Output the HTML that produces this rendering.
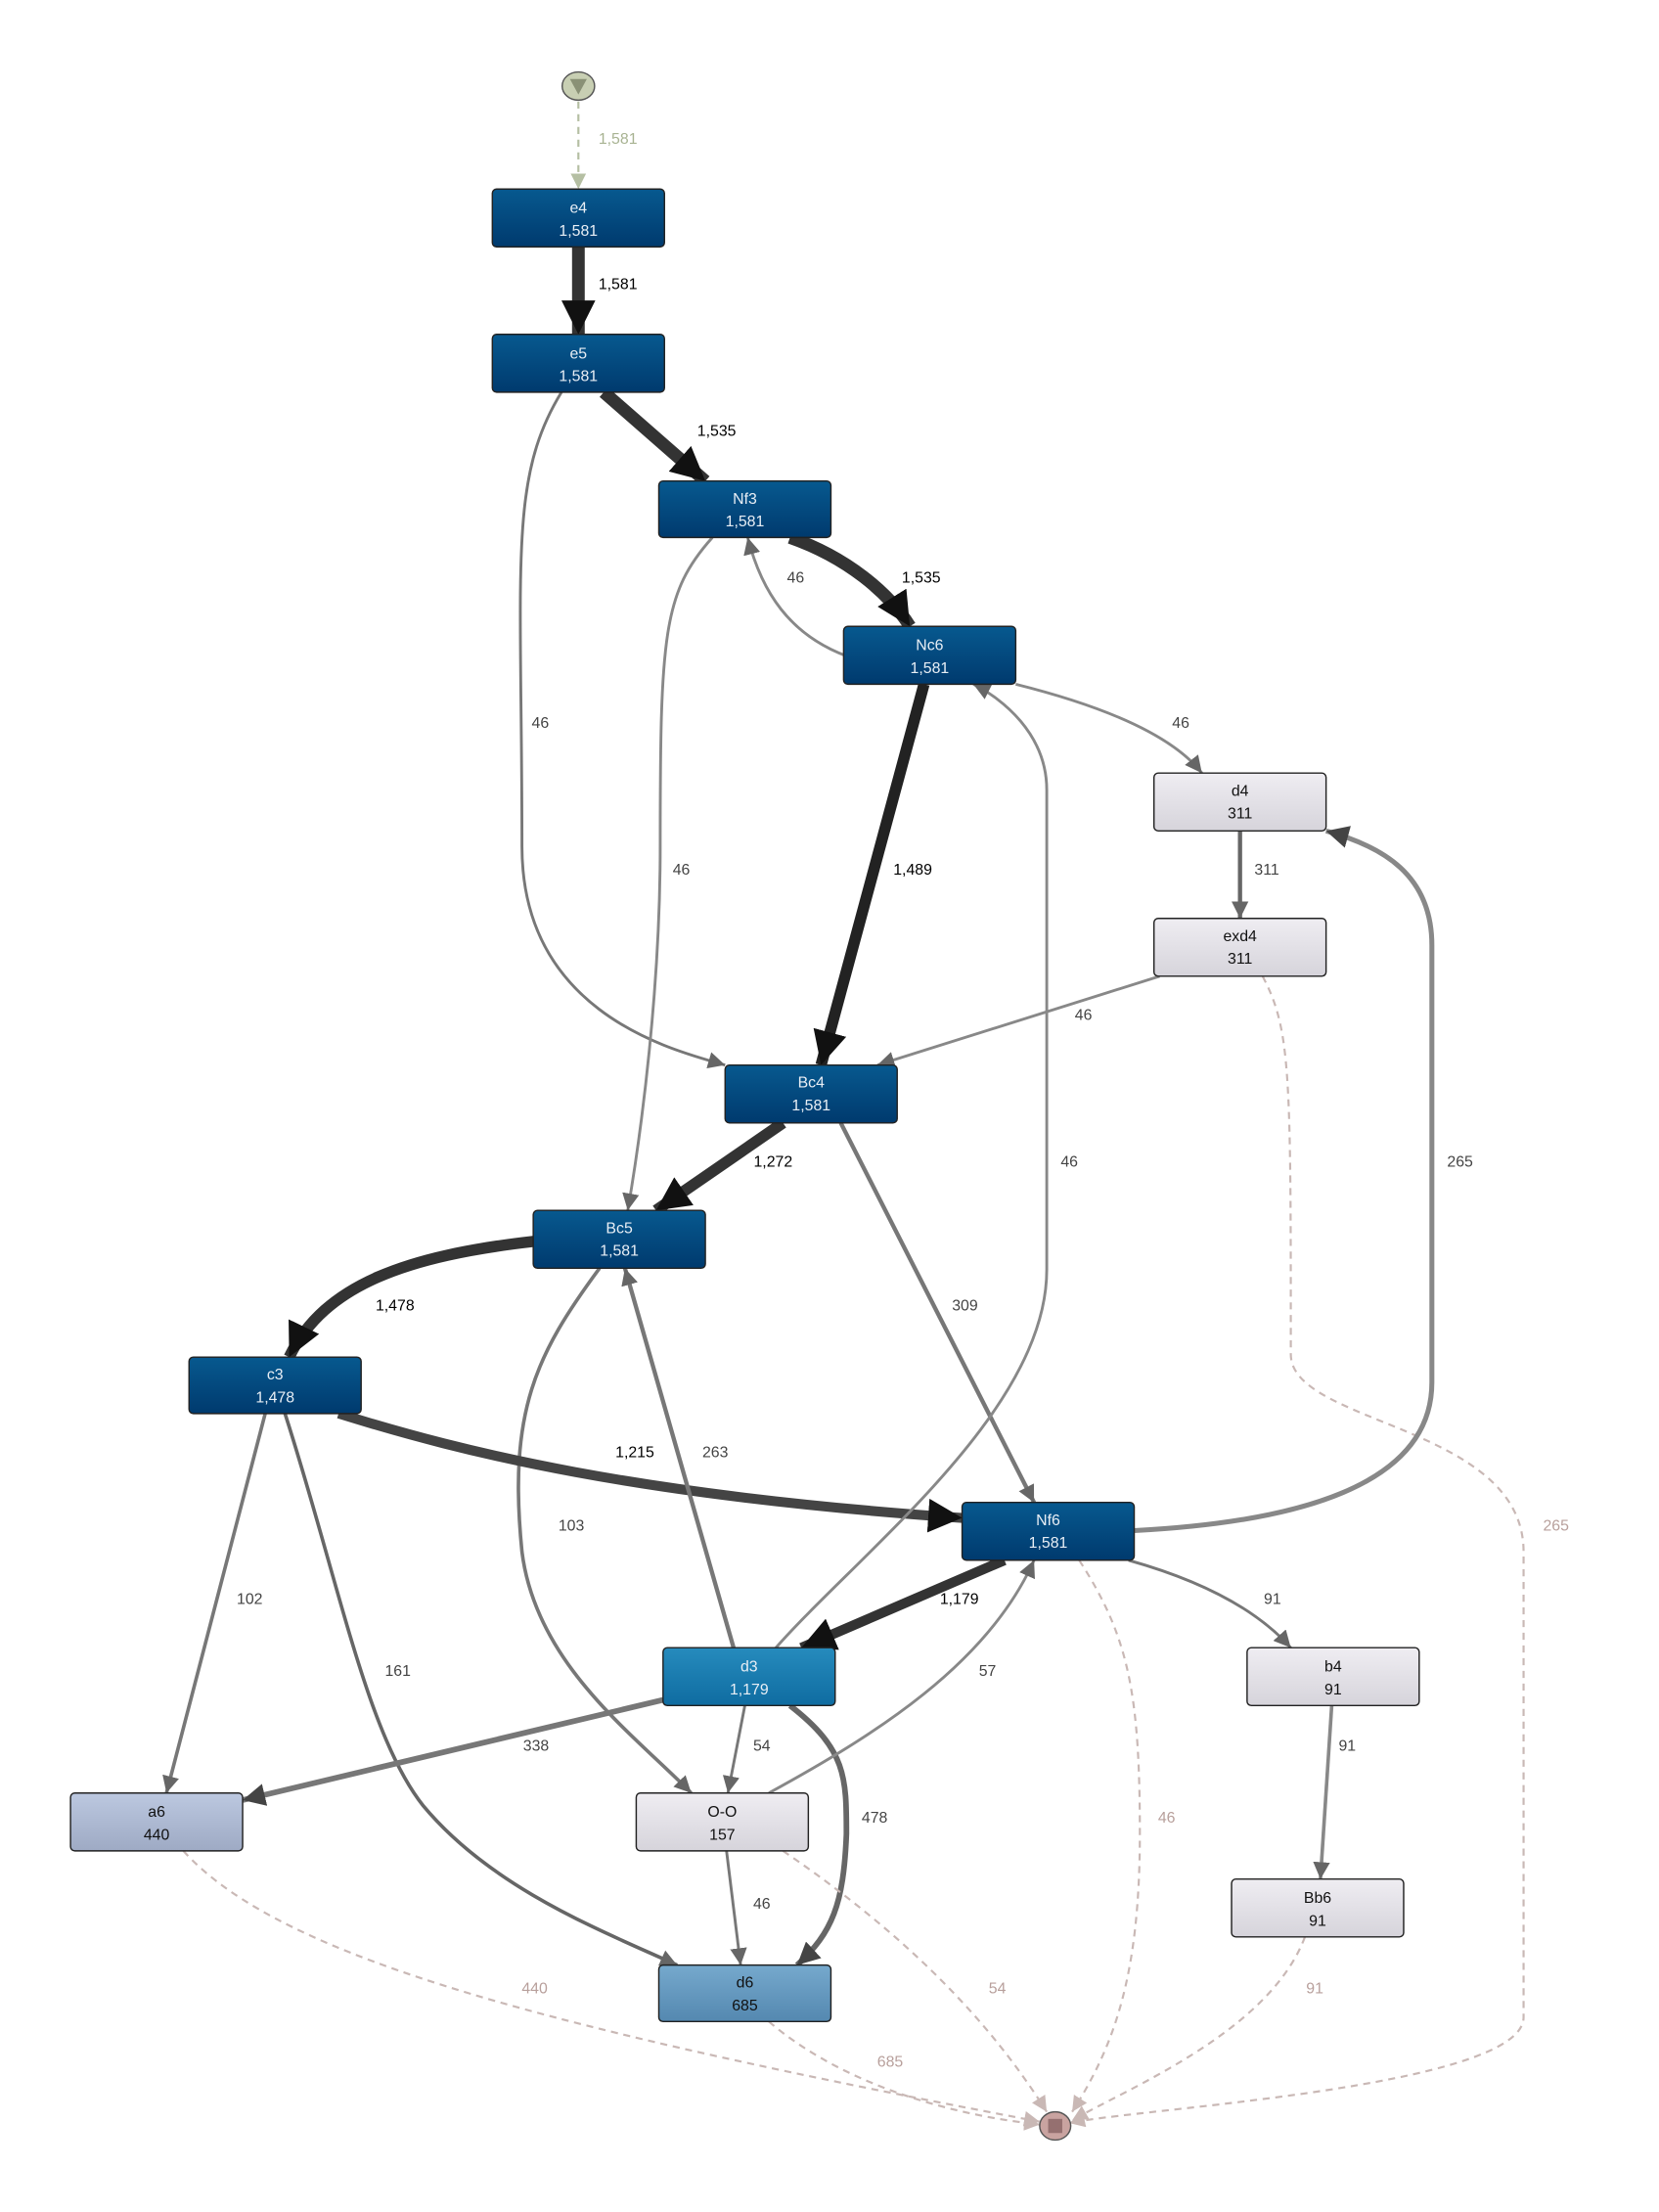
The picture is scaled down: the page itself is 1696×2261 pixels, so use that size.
<!DOCTYPE html>
<html><head><meta charset="utf-8"><style>html,body{margin:0;padding:0;background:#fff}svg{display:block}</style></head>
<body>
<svg width="1696" height="2261" viewBox="0 0 1176 1568" preserveAspectRatio="none" xmlns="http://www.w3.org/2000/svg" font-family="Liberation Sans, sans-serif">
<defs>
<linearGradient id="dk" x1="0" y1="0" x2="0" y2="1"><stop offset="0" stop-color="#07598f"/><stop offset="1" stop-color="#003a6e"/></linearGradient>
<linearGradient id="md" x1="0" y1="0" x2="0" y2="1"><stop offset="0" stop-color="#268bbd"/><stop offset="1" stop-color="#0f6ca1"/></linearGradient>
<linearGradient id="lb" x1="0" y1="0" x2="0" y2="1"><stop offset="0" stop-color="#76a9cd"/><stop offset="1" stop-color="#5488b0"/></linearGradient>
<linearGradient id="gb" x1="0" y1="0" x2="0" y2="1"><stop offset="0" stop-color="#bcc8e0"/><stop offset="1" stop-color="#9eaac4"/></linearGradient>
<linearGradient id="lt" x1="0" y1="0" x2="0" y2="1"><stop offset="0" stop-color="#efedf2"/><stop offset="1" stop-color="#d6d4db"/></linearGradient>
<marker id="a" markerUnits="userSpaceOnUse" markerWidth="12" markerHeight="12" refX="10" refY="5" orient="auto" viewBox="0 0 10 10"><path d="M0,0L10,5L0,10z" fill="#666"/></marker>
<marker id="ab" markerUnits="userSpaceOnUse" markerWidth="24" markerHeight="24" refX="10" refY="5" orient="auto" viewBox="0 0 10 10"><path d="M0,0L10,5L0,10z" fill="#111"/></marker>
<marker id="am" markerUnits="userSpaceOnUse" markerWidth="16" markerHeight="16" refX="10" refY="5" orient="auto" viewBox="0 0 10 10"><path d="M0,0L10,5L0,10z" fill="#444"/></marker>
<marker id="ap" markerUnits="userSpaceOnUse" markerWidth="11" markerHeight="11" refX="10" refY="5" orient="auto" viewBox="0 0 10 10"><path d="M0,0L10,5L0,10z" fill="#c9b8b5"/></marker>
<marker id="ag" markerUnits="userSpaceOnUse" markerWidth="11" markerHeight="11" refX="10" refY="5" orient="auto" viewBox="0 0 10 10"><path d="M0,0L10,5L0,10z" fill="#b5bfa3"/></marker>
</defs>
<g fill="none">
<path d="M410,72 L410,134" stroke="#b5bfa3" stroke-width="1.5" stroke-dasharray="5,4" marker-end="url(#ag)"/>
<path d="M410,175 L410,237" stroke="#333" stroke-width="9" marker-end="url(#ab)"/>
<path d="M428,278 L500,341" stroke="#333" stroke-width="9" marker-end="url(#ab)"/>
<path d="M398,278 C360,340 370,400 370,600 C370,720 480,745 514,755" stroke="#777" stroke-width="2" marker-end="url(#a)"/>
<path d="M505,381 C470,420 468,450 468,600 C468,700 455,800 445,858" stroke="#888" stroke-width="2" marker-end="url(#a)"/>
<path d="M560,381 C600,395 630,420 645,444" stroke="#333" stroke-width="9" marker-end="url(#ab)"/>
<path d="M600,465 C560,450 540,420 530,381" stroke="#888" stroke-width="2" marker-end="url(#a)"/>
<path d="M720,485 C780,500 830,520 852,548" stroke="#888" stroke-width="2" marker-end="url(#a)"/>
<path d="M655,485 L582,755" stroke="#222" stroke-width="8" marker-end="url(#ab)"/>
<path d="M879,589 L879,651" stroke="#666" stroke-width="3" marker-end="url(#a)"/>
<path d="M822,692 L622,755" stroke="#888" stroke-width="2" marker-end="url(#a)"/>
<path d="M895,692 C915,730 915,760 915,960 C915,1010 1080,1010 1080,1100 L1080,1430 C1080,1480 800,1495 758,1505" stroke="#c9b8b5" stroke-width="1.5" stroke-dasharray="5,4" marker-end="url(#ap)"/>
<path d="M555,796 L465,858" stroke="#333" stroke-width="8" marker-end="url(#ab)"/>
<path d="M596,796 L733,1065" stroke="#777" stroke-width="3" marker-end="url(#a)"/>
<path d="M378,880 C290,890 230,910 205,962" stroke="#333" stroke-width="8" marker-end="url(#ab)"/>
<path d="M425,899 C380,960 360,1000 370,1100 C380,1180 450,1230 490,1271" stroke="#777" stroke-width="2.5" marker-end="url(#a)"/>
<path d="M240,1002 C330,1030 450,1060 682,1076" stroke="#444" stroke-width="7" marker-end="url(#ab)"/>
<path d="M188,1002 L118,1271" stroke="#777" stroke-width="2.5" marker-end="url(#a)"/>
<path d="M202,1002 C240,1120 260,1230 300,1280 C350,1340 430,1370 480,1393" stroke="#666" stroke-width="2.5" marker-end="url(#a)"/>
<path d="M804,1085 C900,1080 1015,1060 1015,980 L1015,670 C1015,620 980,600 940,589" stroke="#888" stroke-width="3.5" marker-end="url(#am)"/>
<path d="M712,1106 L568,1168" stroke="#333" stroke-width="7" marker-end="url(#ab)"/>
<path d="M800,1106 C850,1120 890,1140 915,1168" stroke="#777" stroke-width="2" marker-end="url(#a)"/>
<path d="M765,1106 C800,1160 808,1200 808,1300 C808,1400 790,1450 760,1497" stroke="#c9b8b5" stroke-width="1.5" stroke-dasharray="5,4" marker-end="url(#ap)"/>
<path d="M520,1168 L443,899" stroke="#777" stroke-width="3" marker-end="url(#a)"/>
<path d="M550,1168 C610,1100 742,1000 742,900 L742,560 C742,520 710,495 690,485" stroke="#888" stroke-width="2" marker-end="url(#a)"/>
<path d="M470,1205 L172,1276" stroke="#777" stroke-width="4" marker-end="url(#am)"/>
<path d="M528,1209 L516,1271" stroke="#777" stroke-width="2" marker-end="url(#a)"/>
<path d="M560,1209 C600,1240 600,1260 600,1300 C598,1350 590,1370 565,1393" stroke="#666" stroke-width="4" marker-end="url(#am)"/>
<path d="M545,1271 C620,1230 700,1180 733,1106" stroke="#888" stroke-width="2" marker-end="url(#a)"/>
<path d="M515,1312 L525,1393" stroke="#777" stroke-width="2" marker-end="url(#a)"/>
<path d="M555,1312 C640,1370 700,1430 742,1497" stroke="#c9b8b5" stroke-width="1.5" stroke-dasharray="5,4" marker-end="url(#ap)"/>
<path d="M944,1209 L936,1332" stroke="#888" stroke-width="2.5" marker-end="url(#a)"/>
<path d="M925,1373 C900,1440 800,1480 760,1503" stroke="#c9b8b5" stroke-width="1.5" stroke-dasharray="5,4" marker-end="url(#ap)"/>
<path d="M130,1312 C200,1390 400,1440 737,1504" stroke="#c9b8b5" stroke-width="1.5" stroke-dasharray="5,4" marker-end="url(#ap)"/>
<path d="M545,1433 C600,1480 680,1500 737,1506" stroke="#c9b8b5" stroke-width="1.5" stroke-dasharray="5,4" marker-end="url(#ap)"/>
</g>
<g font-size="11" text-anchor="middle" fill="#444">
<text x="438" y="102" fill="#a8b392">1,581</text>
<text x="438" y="205" fill="#000">1,581</text>
<text x="508" y="309" fill="#000">1,535</text>
<text x="383" y="516">46</text>
<text x="483" y="620">46</text>
<text x="653" y="413" fill="#000">1,535</text>
<text x="564" y="413">46</text>
<text x="837" y="516">46</text>
<text x="647" y="620" fill="#000">1,489</text>
<text x="898" y="620">311</text>
<text x="768" y="723">46</text>
<text x="1103" y="1085" fill="#b8a09c">265</text>
<text x="548" y="827" fill="#000">1,272</text>
<text x="684" y="929">309</text>
<text x="280" y="929" fill="#000">1,478</text>
<text x="405" y="1085">103</text>
<text x="450" y="1033" fill="#000">1,215</text>
<text x="177" y="1137">102</text>
<text x="282" y="1188">161</text>
<text x="1035" y="827">265</text>
<text x="680" y="1137" fill="#000">1,179</text>
<text x="902" y="1137">91</text>
<text x="827" y="1292" fill="#b8a09c">46</text>
<text x="507" y="1033">263</text>
<text x="758" y="827">46</text>
<text x="380" y="1241">338</text>
<text x="540" y="1241">54</text>
<text x="620" y="1292">478</text>
<text x="700" y="1188">57</text>
<text x="540" y="1353">46</text>
<text x="707" y="1413" fill="#b8a09c">54</text>
<text x="955" y="1241">91</text>
<text x="932" y="1413" fill="#b8a09c">91</text>
<text x="379" y="1413" fill="#b8a09c">440</text>
<text x="631" y="1465" fill="#b8a09c">685</text>
</g>
<ellipse cx="410" cy="61" rx="11.5" ry="10" fill="#c8cfb3" stroke="#555" stroke-width="1"/>
<path d="M404,56 L416,56 L410,67z" fill="#8a9176"/>
<ellipse cx="748" cy="1507" rx="11" ry="10" fill="#c9a3a0" stroke="#555" stroke-width="1"/>
<rect x="743" y="1502" width="10" height="10" fill="#957070"/>
<g stroke="#222" stroke-width="1" font-size="11" text-anchor="middle">
<rect x="349" y="134" width="122" height="41" rx="3" fill="url(#dk)"/>
<rect x="349" y="237" width="122" height="41" rx="3" fill="url(#dk)"/>
<rect x="467" y="341" width="122" height="40" rx="3" fill="url(#dk)"/>
<rect x="598" y="444" width="122" height="41" rx="3" fill="url(#dk)"/>
<rect x="818" y="548" width="122" height="41" rx="3" fill="url(#lt)"/>
<rect x="818" y="651" width="122" height="41" rx="3" fill="url(#lt)"/>
<rect x="514" y="755" width="122" height="41" rx="3" fill="url(#dk)"/>
<rect x="378" y="858" width="122" height="41" rx="3" fill="url(#dk)"/>
<rect x="134" y="962" width="122" height="40" rx="3" fill="url(#dk)"/>
<rect x="682" y="1065" width="122" height="41" rx="3" fill="url(#dk)"/>
<rect x="470" y="1168" width="122" height="41" rx="3" fill="url(#md)"/>
<rect x="884" y="1168" width="122" height="41" rx="3" fill="url(#lt)"/>
<rect x="50" y="1271" width="122" height="41" rx="3" fill="url(#gb)"/>
<rect x="451" y="1271" width="122" height="41" rx="3" fill="url(#lt)"/>
<rect x="873" y="1332" width="122" height="41" rx="3" fill="url(#lt)"/>
<rect x="467" y="1393" width="122" height="40" rx="3" fill="url(#lb)"/>
</g>
<g font-size="11" text-anchor="middle" fill="#e8eef5">
<text x="410" y="151">e4</text><text x="410" y="167">1,581</text>
<text x="410" y="254">e5</text><text x="410" y="270">1,581</text>
<text x="528" y="357">Nf3</text><text x="528" y="373">1,581</text>
<text x="659" y="461">Nc6</text><text x="659" y="477">1,581</text>
<text x="575" y="771">Bc4</text><text x="575" y="787">1,581</text>
<text x="439" y="874">Bc5</text><text x="439" y="890">1,581</text>
<text x="195" y="978">c3</text><text x="195" y="994">1,478</text>
<text x="743" y="1081">Nf6</text><text x="743" y="1097">1,581</text>
<text x="531" y="1185">d3</text><text x="531" y="1201">1,179</text>
</g>
<g font-size="11" text-anchor="middle" fill="#111">
<text x="879" y="564">d4</text><text x="879" y="580">311</text>
<text x="879" y="667">exd4</text><text x="879" y="683">311</text>
<text x="945" y="1185">b4</text><text x="945" y="1201">91</text>
<text x="111" y="1288">a6</text><text x="111" y="1304">440</text>
<text x="512" y="1288">O-O</text><text x="512" y="1304">157</text>
<text x="934" y="1349">Bb6</text><text x="934" y="1365">91</text>
<text x="528" y="1409">d6</text><text x="528" y="1425">685</text>
</g>
</svg>
</body></html>
